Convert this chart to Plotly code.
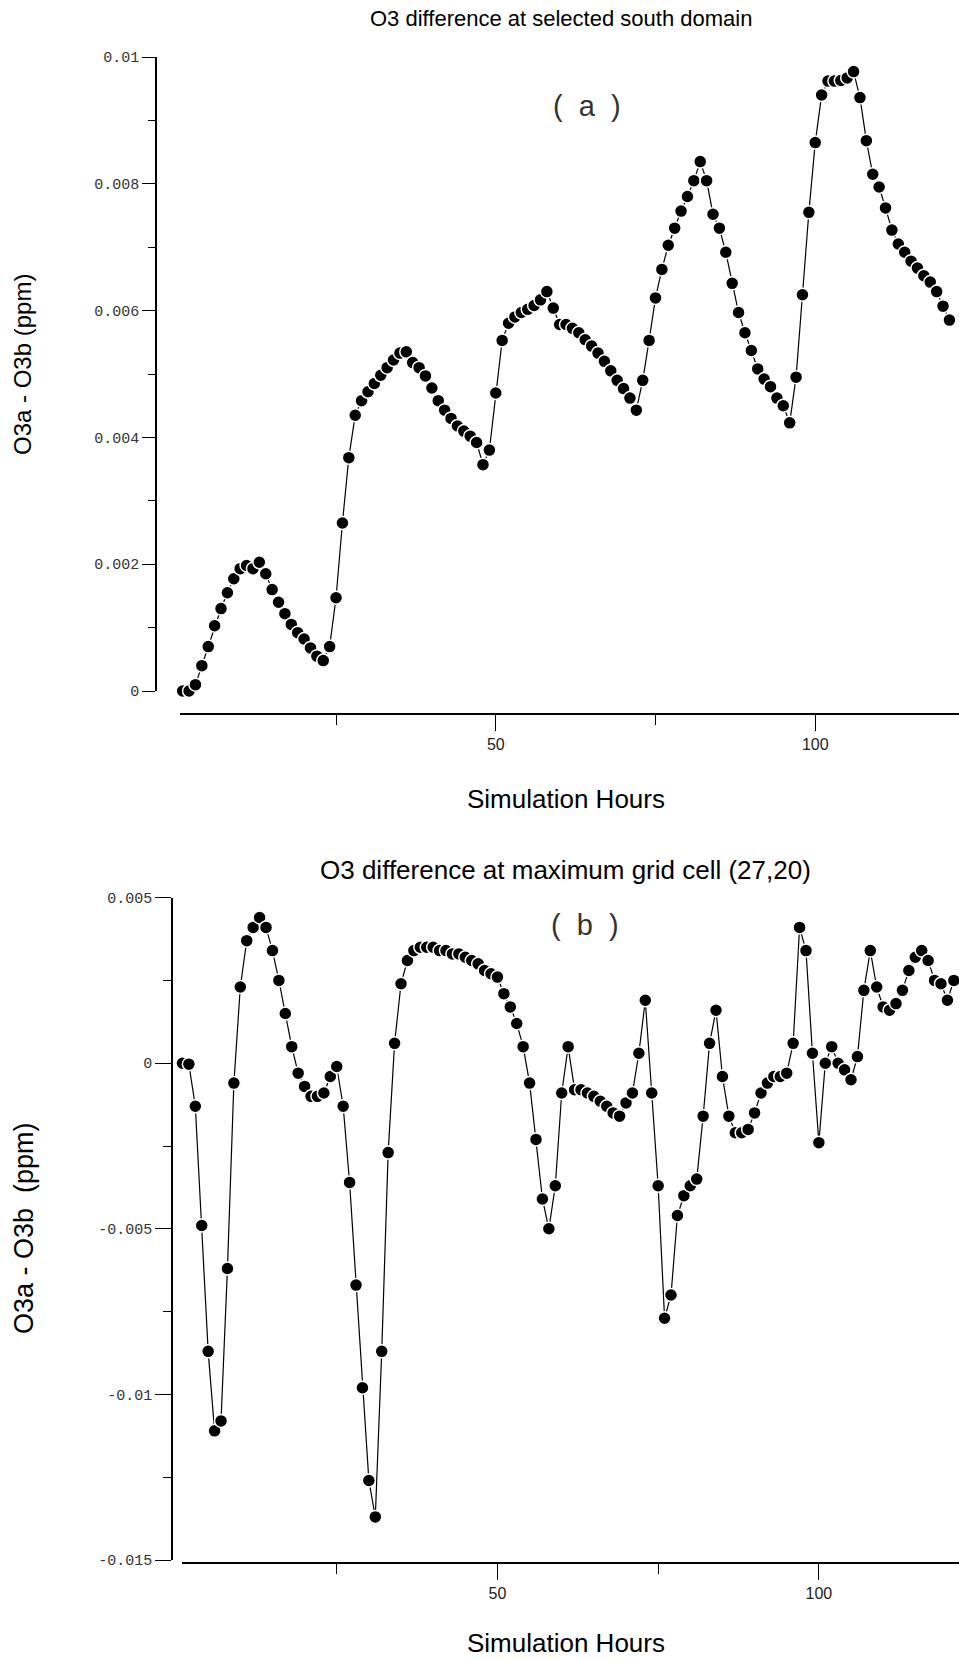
import plotly.graph_objects as go

# ---------------- data ----------------
hours_a = list(range(1, 122))
o3_diff_south = [
    0.0000, 0.0000, 0.0001, 0.0004, 0.0007, 0.00103, 0.0013, 0.00155, 0.00177, 0.00193,
    0.00198, 0.00193, 0.00203, 0.00185, 0.0016, 0.0014, 0.00122, 0.00105, 0.00092, 0.00082,
    0.00068, 0.00055, 0.00048, 0.0007, 0.00147, 0.00265, 0.00368, 0.00435, 0.00458, 0.00472,
    0.00485, 0.00498, 0.0051, 0.00522, 0.00533, 0.00535, 0.00518, 0.0051, 0.00497, 0.00478,
    0.00458, 0.00443, 0.0043, 0.00418, 0.0041, 0.00402, 0.00392, 0.00357, 0.0038, 0.0047,
    0.00553, 0.0058, 0.0059, 0.00597, 0.00602, 0.00608, 0.00617, 0.0063, 0.00604, 0.00578,
    0.00578, 0.00572, 0.00565, 0.00554, 0.00544, 0.00533, 0.0052, 0.00505, 0.0049, 0.00477,
    0.00462, 0.00443, 0.0049, 0.00553, 0.0062, 0.00665, 0.00703, 0.0073, 0.00757, 0.0078,
    0.00805, 0.00835, 0.00805, 0.00752, 0.0073, 0.00692, 0.00643, 0.00597, 0.00565, 0.00537,
    0.00508, 0.00492, 0.0048, 0.00462, 0.0045, 0.00423, 0.00495, 0.00625, 0.00755, 0.00865,
    0.0094, 0.00962, 0.00962, 0.00963, 0.00967, 0.00977, 0.00936, 0.00868, 0.00815, 0.00795,
    0.00762, 0.00727, 0.00705, 0.00692, 0.00678, 0.00667, 0.00655, 0.00645, 0.0063, 0.00607,
    0.00585,
]

hours_b = list(range(1, 122))
o3_diff_maxcell = [
    0.0000, -0.00003, -0.0013, -0.0049, -0.0087, -0.0111, -0.0108, -0.0062, -0.0006, 0.0023,
    0.0037, 0.0041, 0.0044, 0.0041, 0.0034, 0.0025, 0.0015, 0.0005, -0.0003, -0.0007,
    -0.001, -0.001, -0.0009, -0.0004, -0.0001, -0.0013, -0.0036, -0.0067, -0.0098, -0.0126,
    -0.0137, -0.0087, -0.0027, 0.0006, 0.0024, 0.0031, 0.0034, 0.0035, 0.0035, 0.0035,
    0.0034, 0.0034, 0.0033, 0.0033, 0.0032, 0.0031, 0.003, 0.0028, 0.0027, 0.0026,
    0.0021, 0.0017, 0.0012, 0.0005, -0.0006, -0.0023, -0.0041, -0.0050, -0.0037, -0.0009,
    0.0005, -0.0008, -0.0008, -0.0009, -0.001, -0.00115, -0.0013, -0.0015, -0.0016, -0.0012,
    -0.0009, 0.0003, 0.0019, -0.0009, -0.0037, -0.0077, -0.007, -0.0046, -0.004, -0.0037,
    -0.0035, -0.0016, 0.0006, 0.0016, -0.0004, -0.0016, -0.0021, -0.0021, -0.002, -0.0015,
    -0.0009, -0.0006, -0.0004, -0.0004, -0.0003, 0.0006, 0.0041, 0.0034, 0.0003, -0.0024,
    0.0, 0.0005, 0.0, -0.0002, -0.0005, 0.0002, 0.0022, 0.0034, 0.0023, 0.0017,
    0.0016, 0.0018, 0.0022, 0.0028, 0.0032, 0.0034, 0.0031, 0.0025, 0.0024, 0.0019,
    0.0025,
]

x_major_ticks = [50, 100]
x_major_labels = ["50", "100"]
x_minor_ticks = [25, 75]

y_ticks_a = [0, 0.002, 0.004, 0.006, 0.008, 0.01]
y_labels_a = ["0", "0.002", "0.004", "0.006", "0.008", "0.01"]
y_minor_a = [0.001, 0.003, 0.005, 0.007, 0.009]

y_ticks_b = [-0.015, -0.01, -0.005, 0, 0.005]
y_labels_b = ["-0.015", "-0.01", "-0.005", "0", "0.005"]
y_minor_b = [-0.0125, -0.0075, -0.0025, 0.0025]

title_a = "O3 difference at selected south domain"
title_b = "O3 difference at maximum grid cell (27,20)"
x_title = "Simulation Hours"
y_title_a = "O3a - O3b (ppm)"
y_title_b = "O3a - O3b \u00a0(ppm)"
panel_a = "(\u00a0\u00a0a\u00a0\u00a0)"
panel_b = "(\u00a0\u00a0b\u00a0\u00a0)"

# ---------------- layout helpers ----------------
W, H = 959, 1660


def px(x):
    return x / W


def py(y):
    return 1 - y / H


SANS = "Liberation Sans, Arial, sans-serif"
MONO = "Liberation Mono, DejaVu Sans Mono, monospace"

marker = dict(size=13, color="black", line=dict(color="white", width=1.5))
line = dict(color="black", width=1.2)

fig = go.Figure()
fig.add_trace(go.Scatter(x=hours_a, y=o3_diff_south, xaxis="x", yaxis="y",
                         mode="lines+markers", line=line, marker=marker,
                         cliponaxis=False, showlegend=False))
fig.add_trace(go.Scatter(x=hours_b, y=o3_diff_maxcell, xaxis="x2", yaxis="y2",
                         mode="lines+markers", line=line, marker=marker,
                         cliponaxis=False, showlegend=False))


def xaxis_cfg(domain_left, rng, pos):
    return dict(domain=[px(domain_left), 1.0], range=rng, anchor="free", position=pos,
                showline=True, linecolor="black", linewidth=1.5, mirror=False,
                showgrid=False, zeroline=False, automargin=False,
                ticks="outside", ticklen=16, tickwidth=1.3, tickcolor="black",
                tickmode="array", tickvals=x_major_ticks, ticktext=x_major_labels,
                tickfont=dict(family=SANS, size=16, color="#222"),
                minor=dict(tickmode="array", tickvals=x_minor_ticks, ticks="outside",
                           ticklen=10, tickwidth=1.2, tickcolor="black"))


def yaxis_cfg(top, bottom, rng, pos, vals, labels, minor_vals, tlen, mlen):
    return dict(domain=[py(bottom), py(top)], range=rng, anchor="free", position=pos,
                showline=True, linecolor="black", linewidth=1.5,
                showgrid=False, zeroline=False, automargin=False,
                ticks="outside", ticklen=tlen, tickwidth=1.2, tickcolor="black",
                tickmode="array", tickvals=vals, ticktext=labels,
                tickfont=dict(family=MONO, size=15, color="#333"),
                minor=dict(tickmode="array", tickvals=minor_vals, ticks="outside",
                           ticklen=mlen, tickwidth=1.0, tickcolor="black"))


fig.update_layout(
    width=W, height=H,
    margin=dict(l=0, r=0, t=0, b=0, pad=0),
    paper_bgcolor="white", plot_bgcolor="white",
    showlegend=False,
    xaxis=xaxis_cfg(180, [0.58, 122.5], py(714)),
    yaxis=yaxis_cfg(57, 691, [0, 0.01], px(156), y_ticks_a, y_labels_a, y_minor_a, 13, 7),
    xaxis2=xaxis_cfg(182, [0.93, 121.8], py(1563)),
    yaxis2=yaxis_cfg(897.6, 1560, [-0.015, 0.005], px(172), y_ticks_b, y_labels_b, y_minor_b, 16, 8),
)

annotations = [
    dict(text=title_a, x=px(561), y=py(19), font=dict(family=SANS, size=22, color="black")),
    dict(text=title_b, x=px(565), y=py(870), font=dict(family=SANS, size=26, color="black")),
    dict(text=x_title, x=px(566), y=py(799), font=dict(family=SANS, size=26, color="black")),
    dict(text=x_title, x=px(566), y=py(1643), font=dict(family=SANS, size=26, color="black")),
    dict(text=y_title_a, x=px(23), y=py(365), textangle=-90,
         font=dict(family=SANS, size=24, color="black")),
    dict(text=y_title_b, x=px(24), y=py(1228), textangle=-90,
         font=dict(family=SANS, size=27, color="black")),
    dict(text=panel_a, x=px(587), y=py(106), font=dict(family=SANS, size=29, color="#333")),
    dict(text=panel_b, x=px(585), y=py(925), font=dict(family=SANS, size=29, color="#333")),
]
for a in annotations:
    a.update(xref="paper", yref="paper", xanchor="center", yanchor="middle", showarrow=False)
fig.update_layout(annotations=annotations)

fig.write_html("out.html", config={"displayModeBar": False},
               post_script="document.body.style.margin='0px';document.body.style.padding='0px';")
